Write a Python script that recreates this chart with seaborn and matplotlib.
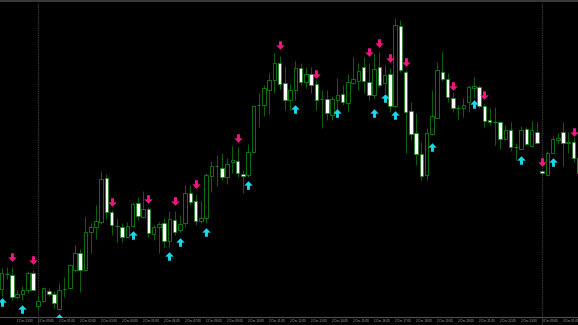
import numpy as np
import pandas as pd
import matplotlib
matplotlib.use("Agg")
import matplotlib.pyplot as plt
from matplotlib.path import Path
import seaborn as sns

# ---- data: M15 candles, prices in points above 1.1600 (1 point = 0.0001) ----
open_pts = [41, 56, 55, 33, 36, 40, 57, 24, 29, 39, 36, 21, 41, 42, 60, 77, 60, 98, 103, 108,
            152, 118, 104, 103, 93, 104, 127, 113, 121, 96, 103, 107, 89, 110, 100, 107, 137, 129, 109, 112,
            154, 164, 162, 153, 168, 169, 156, 155, 178, 225, 225, 240, 250, 267, 247, 230, 240, 262, 248, 256,
            246, 231, 231, 215, 230, 236, 227, 247, 249, 263, 248, 235, 263, 247, 256, 224, 304, 258, 219, 197,
            176, 155, 196, 212, 258, 251, 232, 222, 222, 228, 242, 243, 224, 210, 208, 208, 191, 200, 183, 181,
            201, 184, 198, 159, 155, 177, 190, 198, 187, 188, 172]
high_pts = [62, 63, 63, 40, 44, 59, 60, 35, 43, 42, 39, 47, 53, 66, 85, 81, 113, 107, 125, 159,
            156, 120, 112, 107, 108, 128, 133, 139, 123, 105, 108, 112, 119, 119, 115, 145, 145, 136, 129, 157,
            169, 175, 177, 172, 184, 183, 160, 186, 225, 237, 245, 257, 277, 274, 264, 246, 269, 267, 263, 263,
            250, 240, 240, 234, 252, 245, 256, 273, 267, 273, 267, 277, 278, 265, 262, 312, 310, 260, 228, 217,
            188, 202, 240, 268, 278, 257, 238, 225, 232, 245, 253, 245, 226, 222, 223, 209, 205, 208, 187, 204,
            203, 209, 208, 160, 179, 194, 197, 208, 198, 193, 174]
low_pts = [34, 51, 30, 31, 30, 37, 39, 21, 28, 34, 22, 20, 33, 41, 58, 38, 59, 77, 91, 106,
           111, 95, 88, 88, 92, 103, 110, 112, 93, 90, 77, 83, 83, 95, 98, 103, 125, 105, 107, 107,
           138, 144, 150, 146, 157, 153, 137, 153, 177, 203, 214, 216, 237, 241, 220, 220, 230, 245, 242, 237,
           220, 202, 210, 210, 220, 225, 218, 246, 240, 237, 230, 232, 243, 237, 218, 223, 258, 177, 190, 165,
           150, 150, 195, 212, 249, 228, 218, 210, 213, 218, 232, 222, 203, 205, 185, 181, 190, 179, 170, 180,
           185, 183, 186, 156, 154, 177, 186, 164, 177, 168, 155]
close_pts = [57, 56, 33, 36, 40, 57, 40, 29, 42, 36, 27, 40, 41, 65, 77, 60, 98, 103, 109, 151,
             118, 105, 104, 93, 104, 126, 114, 121, 97, 103, 106, 89, 111, 98, 106, 137, 128, 109, 112, 155,
             164, 164, 153, 166, 170, 157, 154, 178, 224, 225, 242, 250, 267, 246, 230, 240, 262, 248, 256, 245,
             230, 231, 217, 231, 235, 228, 248, 251, 259, 249, 235, 261, 245, 255, 224, 305, 260, 218, 196, 176,
             154, 197, 214, 260, 251, 233, 222, 222, 225, 243, 244, 224, 209, 208, 208, 191, 200, 183, 183, 200,
             186, 200, 187, 157, 177, 191, 192, 187, 188, 172, 157]

# indicator signals (arrow levels, same point units)
sell_idx = [2, 6, 21, 28, 33, 37, 45, 53, 60, 70, 72, 74, 77, 86, 92, 103, 109]
sell_lvl = [73.5, 70, 128.5, 131, 129, 146, 192, 284.5, 256, 278, 287.5, 272, 268, 243.5, 235, 168.5, 198]
buy_idx = [0, 4, 11, 25, 32, 34, 39, 47, 56, 64, 71, 73, 75, 82, 90, 99, 105]
buy_lvl = [28.5, 21, 12, 95.5, 74, 88, 98, 145, 221, 217, 217, 232.5, 215, 183, 226, 170, 168]

# day separators (bar index) and time axis labels
day_sep_idx = [7, 103]
tick_idx = [3, 7, 11, 15, 19, 23, 27, 31, 35, 39, 43, 47, 51, 55, 59, 63, 67, 71, 75, 79,
            83, 87, 91, 95, 99, 103, 107]
tick_labels = ["1 Dec 23:00", "2 Dec 00:00", "2 Dec 01:00", "2 Dec 02:00", "2 Dec 03:00",
               "2 Dec 04:00", "2 Dec 05:00", "2 Dec 06:00", "2 Dec 07:00", "2 Dec 08:00",
               "2 Dec 09:00", "2 Dec 10:00", "2 Dec 11:00", "2 Dec 12:00", "2 Dec 13:00",
               "2 Dec 14:00", "2 Dec 15:00", "2 Dec 16:00", "2 Dec 17:00", "2 Dec 18:00",
               "2 Dec 19:00", "2 Dec 20:00", "2 Dec 21:00", "2 Dec 22:00", "2 Dec 23:00",
               "3 Dec 00:00", "3 Dec 01:00"]

BASE = 1.1600
PT = 0.0001

# ---- styling ----
BG = "#000000"
WICK = "#0b6a0b"
EDGE = "#108410"
PINK = "#f0167f"
CYAN = "#19d9ee"
GRID_GRAY = "#404040"

sns.set_theme(style="dark", rc={"axes.facecolor": BG, "figure.facecolor": BG,
                                "savefig.facecolor": BG})
plt.rcParams["font.family"] = ["DejaVu Sans"]

df = pd.DataFrame({
    "i": np.arange(len(open_pts)),
    "o": BASE + np.array(open_pts) * PT,
    "h": BASE + np.array(high_pts) * PT,
    "l": BASE + np.array(low_pts) * PT,
    "c": BASE + np.array(close_pts) * PT,
})

W, H = 578, 325
fig = plt.figure(figsize=(W / 100, H / 100), dpi=100)
ax = fig.add_axes([0, 8 / H, 1, 315 / H])
ax.set_facecolor(BG)
ax.grid(False)

# wicks
ax.vlines(df["i"], df["l"], df["h"], color=WICK, lw=0.65, zorder=2)

bw = 0.68
bull = df[df["c"] > df["o"]]
bear = df[df["c"] < df["o"]]
doji = df[df["c"] == df["o"]]
last = len(df) - 1

ax.bar(bull["i"], bull["c"] - bull["o"], bottom=bull["o"], width=bw,
       color=BG, edgecolor=EDGE, linewidth=0.6, zorder=3)
bear_face = ["#9ee89e" if k == last else "#ffffff" for k in bear["i"]]
ax.bar(bear["i"], bear["o"] - bear["c"], bottom=bear["c"], width=bw,
       color=bear_face, edgecolor=EDGE, linewidth=0.5, zorder=3)
ax.hlines(doji["o"], doji["i"] - bw / 2, doji["i"] + bw / 2, color=EDGE, lw=0.9, zorder=3)

# arrow markers
down_arrow = Path([(-0.17, 0.5), (0.17, 0.5), (0.17, 0.02), (0.5, 0.02), (0.0, -0.5),
                   (-0.5, 0.02), (-0.17, 0.02), (-0.17, 0.5)],
                  [Path.MOVETO] + [Path.LINETO] * 6 + [Path.CLOSEPOLY])
up_arrow = Path([(x, -y) for x, y in down_arrow.vertices], down_arrow.codes)

sell_df = pd.DataFrame({"i": sell_idx, "p": BASE + np.array(sell_lvl) * PT})
buy_df = pd.DataFrame({"i": buy_idx, "p": BASE + np.array(buy_lvl) * PT})
sns.scatterplot(data=sell_df, x="i", y="p", marker=down_arrow, s=38, color=PINK,
                linewidth=0, ax=ax, zorder=5, legend=False)
sns.scatterplot(data=buy_df, x="i", y="p", marker=up_arrow, s=38, color=CYAN,
                linewidth=0, ax=ax, zorder=5, legend=False)

# day separators
for d in day_sep_idx:
    ax.axvline(d, ymin=-0.03, ymax=1, color=GRID_GRAY, lw=0.9, ls=(0, (0.7, 0.7)),
               zorder=1, clip_on=False)

ax.set_xlim(-1.5 / 5.248, (W - 1.5) / 5.248)
ax.set_ylim(BASE + 13 * PT, BASE + 328 * PT)
ax.set_yticks([])
ax.set_xticks(tick_idx)
ax.set_xticklabels(tick_labels)
ax.tick_params(axis="x", colors="#9a9a9a", labelcolor="#b4b4b4", labelsize=1.9,
               length=1.0, width=0.4, pad=0.6, direction="out")
for t in ax.get_xticklabels():
    t.set_ha("left")
ax.set_xlabel("")
ax.set_ylabel("")
for s in ["top", "left", "right"]:
    ax.spines[s].set_visible(False)
ax.spines["bottom"].set_color("#505050")
ax.spines["bottom"].set_linewidth(0.8)

# top border line
fig.add_artist(plt.Line2D([0, 1], [1 - 1 / H, 1 - 1 / H], transform=fig.transFigure,
                          color="#3a3a3a", lw=1.4))

fig.savefig("out.png", dpi=100, facecolor=BG)
